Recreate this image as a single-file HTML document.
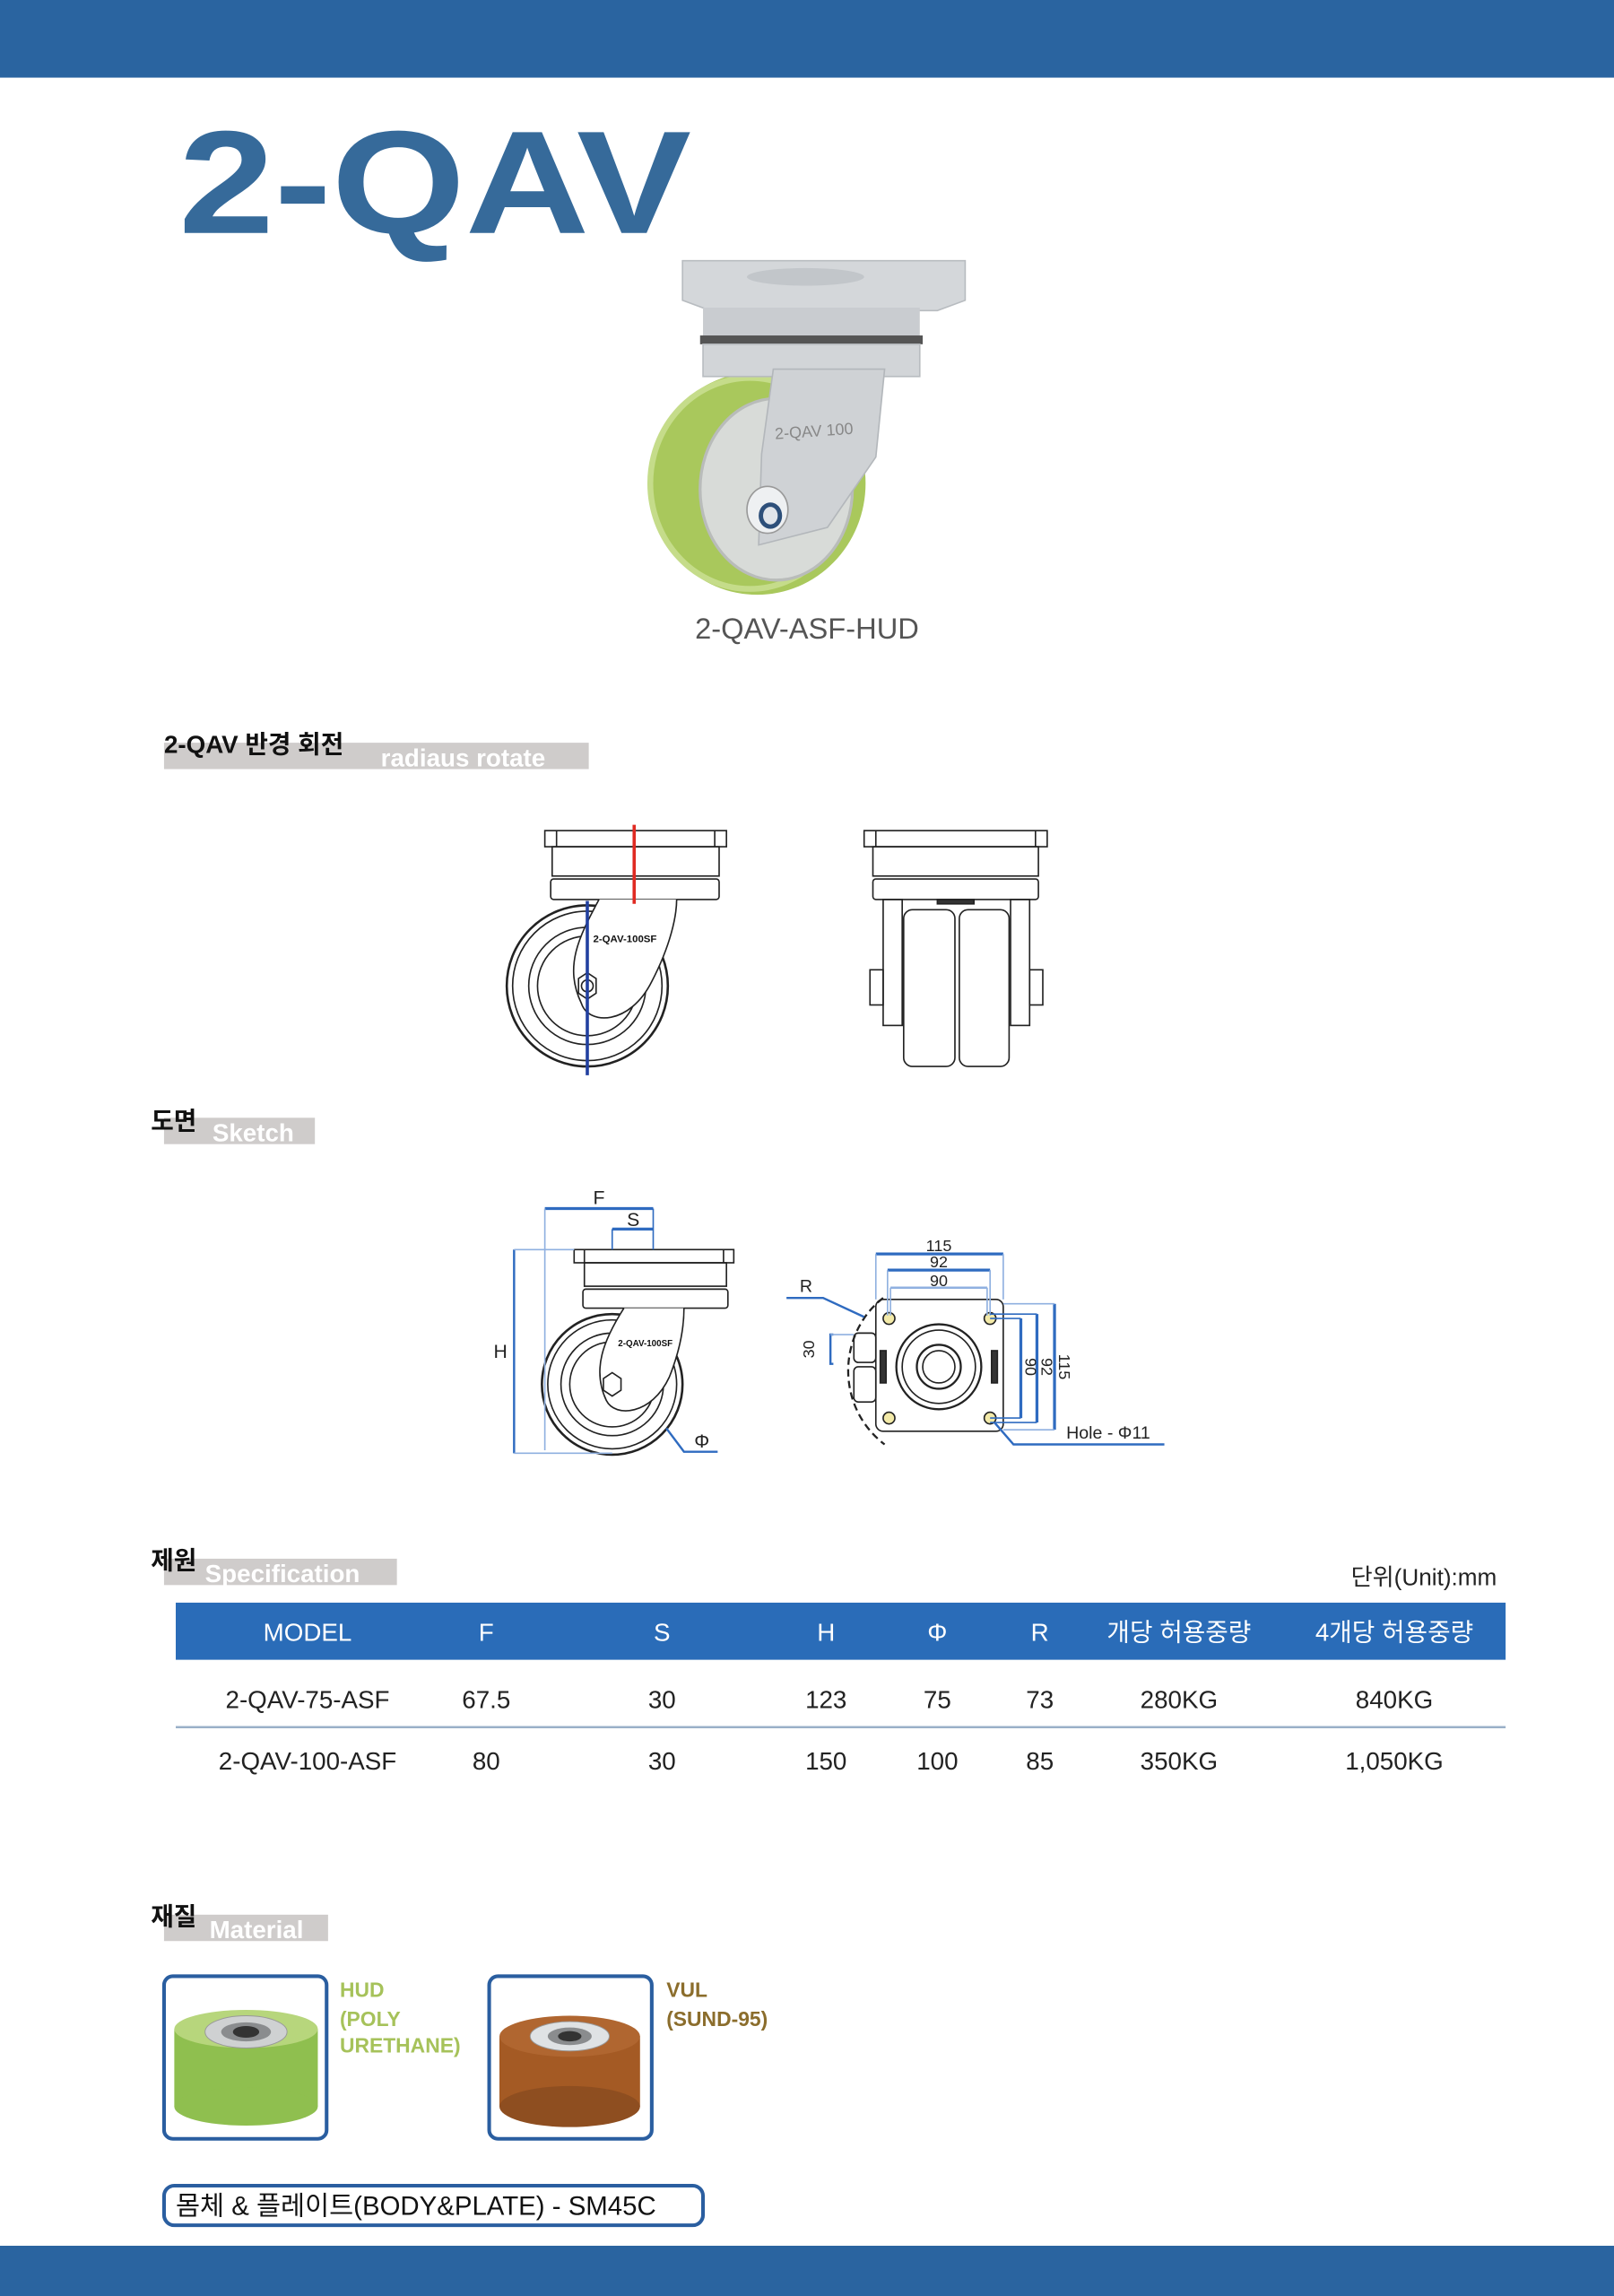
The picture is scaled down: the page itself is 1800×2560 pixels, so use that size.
<!DOCTYPE html>
<html><head><meta charset="utf-8">
<style>
html,body{margin:0;padding:0;background:#fff;}
svg{display:block;}
text{font-family:"Liberation Sans","Noto Sans CJK KR",sans-serif;}
</style></head>
<body>
<svg width="1800" height="2560" viewBox="0 0 1102 1567.3" xmlns="http://www.w3.org/2000/svg">
<rect x="0" y="0" width="1102" height="1567.3" fill="#fff"/>
<rect x="0" y="0" width="1102" height="53" fill="#2a64a0"/>
<rect x="0" y="1533" width="1102" height="35" fill="#2a64a0"/>

<!-- Title -->
<text x="122" y="159" font-size="100" font-weight="bold" fill="#366a9a" textLength="350" lengthAdjust="spacingAndGlyphs">2-QAV</text>

<!-- Product photo -->
<g>
  <ellipse cx="517" cy="330" rx="74" ry="76" fill="#a9c85c"/>
  <ellipse cx="512" cy="330" rx="68" ry="72" fill="none" stroke="#c5dc8a" stroke-width="4"/>
  <ellipse cx="530" cy="334" rx="52" ry="62" fill="#d8dbd8" stroke="#b9bcba" stroke-width="2"/>
  <polygon points="466,178 659,178 659,205 640,212 485,212 466,205" fill="#d4d7da" stroke="#b8bcc0"/>
  <ellipse cx="550" cy="189" rx="40" ry="6" fill="#c2c6ca"/>
  <rect x="480" y="210" width="148" height="20" fill="#c9ccd0"/>
  <rect x="478" y="229" width="152" height="6" fill="#555"/>
  <rect x="480" y="235" width="148" height="22" fill="#d2d5d8" stroke="#b8bcc0"/>
  <polygon points="528,252 604,252 598,312 565,360 518,372 520,310" fill="#cfd2d5" stroke="#b3b7bb"/>
  <text x="556" y="298" font-size="11" fill="#888" text-anchor="middle" transform="rotate(-4 556 298)">2-QAV 100</text>
  <ellipse cx="524" cy="348" rx="14" ry="16" fill="#eef0f2" stroke="#999"/>
  <ellipse cx="526" cy="352" rx="8" ry="9" fill="#2d4f7a"/>
  <ellipse cx="526" cy="352" rx="5" ry="6" fill="#e0e4ea"/>
</g>
<text x="551" y="436" font-size="20" fill="#555" text-anchor="middle">2-QAV-ASF-HUD</text>

<!-- Section headers -->
<g font-weight="bold" font-size="17">
  <rect x="112" y="507" width="290" height="18" fill="#cfcccb"/>
  <text x="112" y="514" fill="#111">2-QAV 반경 회전</text>
  <text x="260" y="523" fill="#fff">radiaus rotate</text>

  <rect x="112" y="763" width="103" height="18" fill="#cfcccb"/>
  <text x="103" y="771" fill="#111">도면</text>
  <text x="145" y="779" fill="#fff">Sketch</text>

  <rect x="112" y="1064" width="159" height="18" fill="#cfcccb"/>
  <text x="103" y="1071" fill="#111">제원</text>
  <text x="140" y="1080" fill="#fff">Specification</text>

  <rect x="112" y="1307" width="112" height="18" fill="#cfcccb"/>
  <text x="103" y="1314" fill="#111">재질</text>
  <text x="143" y="1323" fill="#fff">Material</text>
</g>

<!-- Row 1 drawings -->
<g fill="none" stroke="#222" stroke-width="1">
  <rect x="372" y="567" width="124" height="11"/>
  <line x1="380" y1="567" x2="380" y2="578"/><line x1="488" y1="567" x2="488" y2="578"/>
  <rect x="377" y="578" width="114" height="20"/>
  <rect x="376" y="600" width="115" height="14" rx="2"/>
  <circle cx="401" cy="673" r="55" stroke-width="1.6"/>
  <circle cx="401" cy="673" r="51"/>
  <circle cx="401" cy="673" r="40"/>
  <circle cx="401" cy="673" r="34"/>
  <path d="M409,614 C395,640 385,660 397,685 C402,700 430,700 445,670 C458,645 462,625 462,614" fill="#fff"/>
  <polygon points="395,668 401,664 407,668 407,678 401,682 395,678" />
  <circle cx="401" cy="673" r="4"/>
  <text x="405" y="643" font-size="7" font-weight="bold" fill="#111" stroke="none">2-QAV-100SF</text>
  <line x1="433" y1="563" x2="433" y2="617" stroke="#e02a22" stroke-width="2.2"/>
  <line x1="401" y1="615" x2="401" y2="734" stroke="#2240a0" stroke-width="2.2"/>
  <rect x="590" y="567" width="125" height="11"/>
  <line x1="598" y1="567" x2="598" y2="578"/><line x1="707" y1="567" x2="707" y2="578"/>
  <rect x="596" y="578" width="113" height="20"/>
  <rect x="596" y="600" width="113" height="14" rx="2"/>
  <rect x="603" y="614" width="13" height="86"/>
  <rect x="690" y="614" width="13" height="86"/>
  <rect x="594" y="662" width="9" height="24"/><rect x="703" y="662" width="9" height="24"/>
  <rect x="617" y="621" width="35" height="107" rx="6"/>
  <rect x="655" y="621" width="34" height="107" rx="6"/>
  <rect x="640" y="614" width="25" height="3" fill="#333"/>
</g>

<!-- Row 2 sketch -->
<g fill="none" stroke="#222" stroke-width="1">
  <rect x="392" y="853" width="109" height="9"/>
  <line x1="399" y1="853" x2="399" y2="862"/><line x1="494" y1="853" x2="494" y2="862"/>
  <rect x="399" y="862" width="97" height="16"/>
  <rect x="398" y="880" width="99" height="13" rx="2"/>
  <circle cx="418" cy="945" r="48" stroke-width="1.6"/>
  <circle cx="418" cy="945" r="44"/>
  <circle cx="418" cy="945" r="35"/>
  <circle cx="418" cy="945" r="29"/>
  <path d="M426,893 C412,915 404,935 414,956 C420,968 445,966 457,940 C465,920 467,905 467,893" fill="#fff"/>
  <polygon points="412,941 418,937 424,941 424,949 418,953 412,949"/>
  <text x="422" y="919" font-size="6" font-weight="bold" fill="#111" stroke="none">2-QAV-100SF</text>
</g>
<g fill="none" stroke="#2f6bc0" stroke-width="1">
  <line x1="372" y1="825" x2="446" y2="825" stroke-width="2"/>
  <line x1="372" y1="825" x2="372" y2="990" stroke="#8fb0e0"/>
  <line x1="446" y1="825" x2="446" y2="853"/>
  <line x1="418" y1="839" x2="446" y2="839" stroke-width="2"/>
  <line x1="418" y1="839" x2="418" y2="853"/>
  <line x1="351" y1="853" x2="351" y2="992" stroke-width="1.5"/>
  <line x1="351" y1="853" x2="392" y2="853" stroke="#8fb0e0"/>
  <line x1="351" y1="992" x2="418" y2="992" stroke="#8fb0e0"/>
  <polyline points="455,975 467,991 490,991" stroke-width="1.5"/>
</g>
<g font-size="13" fill="#222">
  <text x="405" y="822">F</text>
  <text x="428" y="837">S</text>
  <text x="337" y="927">H</text>
  <text x="474" y="988">Φ</text>
</g>
<g fill="none" stroke="#222" stroke-width="1">
  <rect x="598" y="887" width="87" height="90" rx="5"/>
  <circle cx="641" cy="933" r="29" stroke-width="1.4"/>
  <circle cx="641" cy="933" r="25"/>
  <circle cx="641" cy="933" r="15" stroke-width="1.4"/>
  <circle cx="641" cy="933" r="11"/>
  <rect x="583" y="910" width="15" height="20" rx="3"/>
  <rect x="583" y="933" width="15" height="24" rx="3"/>
  <rect x="601" y="922" width="4" height="22" fill="#333"/>
  <rect x="677" y="922" width="4" height="22" fill="#333"/>
  <path d="M603,886 C572,910 570,960 604,986" stroke-dasharray="5,3" stroke-width="1.4"/>
  <circle cx="607" cy="900" r="4" fill="#f3eaa8"/><circle cx="676" cy="900" r="4" fill="#f3eaa8"/>
  <circle cx="607" cy="968" r="4" fill="#f3eaa8"/><circle cx="676" cy="968" r="4" fill="#f3eaa8"/>
</g>
<g fill="none" stroke="#2f6bc0" stroke-width="1">
  <line x1="598" y1="856" x2="685" y2="856" stroke-width="2"/>
  <line x1="598" y1="856" x2="598" y2="887" stroke="#8fb0e0"/><line x1="685" y1="856" x2="685" y2="887" stroke="#8fb0e0"/>
  <line x1="606" y1="867" x2="676" y2="867" stroke-width="2"/>
  <line x1="606" y1="867" x2="606" y2="898" stroke="#8fb0e0"/><line x1="676" y1="867" x2="676" y2="898" stroke="#8fb0e0"/>
  <line x1="608" y1="879" x2="674" y2="879" stroke="#8fb0e0" stroke-width="1.5"/>
  <line x1="608" y1="879" x2="608" y2="898" stroke="#8fb0e0"/><line x1="674" y1="879" x2="674" y2="898" stroke="#8fb0e0"/>
  <line x1="720" y1="890" x2="720" y2="976" stroke-width="2"/>
  <line x1="685" y1="890" x2="720" y2="890" stroke="#8fb0e0"/><line x1="685" y1="976" x2="720" y2="976" stroke="#8fb0e0"/>
  <line x1="708" y1="897" x2="708" y2="971" stroke-width="2"/>
  <line x1="676" y1="897" x2="708" y2="897"/><line x1="676" y1="971" x2="708" y2="971"/>
  <line x1="697" y1="900" x2="697" y2="968" stroke-width="2"/>
  <line x1="676" y1="900" x2="697" y2="900"/><line x1="676" y1="968" x2="697" y2="968"/>
  <polyline points="537,886 562,886 590,899" stroke-width="1.5"/>
  <polyline points="569,911 567,911 567,931 569,931" stroke-width="1.5"/>
  <polyline points="567,911 583,911 M567,931 583,931" stroke="#8fb0e0"/>
  <polyline points="679,971 692,986 795,986" stroke-width="1.5"/>
</g>
<g font-size="11" fill="#222">
  <text x="641" y="854" text-anchor="middle">115</text>
  <text x="641" y="865" text-anchor="middle">92</text>
  <text x="641" y="878" text-anchor="middle">90</text>
  <text x="546" y="882" font-size="12">R</text>
  <text x="0" y="0" transform="translate(556 921) rotate(-90)" text-anchor="middle">30</text>
  <text x="0" y="0" transform="translate(723 933) rotate(90)" text-anchor="middle">115</text>
  <text x="0" y="0" transform="translate(711 933) rotate(90)" text-anchor="middle">92</text>
  <text x="0" y="0" transform="translate(700 933) rotate(90)" text-anchor="middle">90</text>
  <text x="728" y="982" font-size="12">Hole - Φ11</text>
</g>

<!-- Table -->
<text x="1022" y="1082" font-size="16" fill="#222" text-anchor="end">단위(Unit):mm</text>
<rect x="120" y="1094" width="908" height="39" fill="#2a6cb8"/>
<g font-size="17" fill="#fff" text-anchor="middle">
  <text x="210" y="1120">MODEL</text>
  <text x="332" y="1120">F</text>
  <text x="452" y="1120">S</text>
  <text x="564" y="1120">H</text>
  <text x="640" y="1120">Φ</text>
  <text x="710" y="1120">R</text>
  <text x="805" y="1120">개당 허용중량</text>
  <text x="952" y="1120">4개당 허용중량</text>
</g>
<g font-size="17" fill="#222" text-anchor="middle">
  <text x="210" y="1166">2-QAV-75-ASF</text>
  <text x="332" y="1166">67.5</text>
  <text x="452" y="1166">30</text>
  <text x="564" y="1166">123</text>
  <text x="640" y="1166">75</text>
  <text x="710" y="1166">73</text>
  <text x="805" y="1166">280KG</text>
  <text x="952" y="1166">840KG</text>
  <text x="210" y="1208">2-QAV-100-ASF</text>
  <text x="332" y="1208">80</text>
  <text x="452" y="1208">30</text>
  <text x="564" y="1208">150</text>
  <text x="640" y="1208">100</text>
  <text x="710" y="1208">85</text>
  <text x="805" y="1208">350KG</text>
  <text x="952" y="1208">1,050KG</text>
</g>
<line x1="120" y1="1179" x2="1028" y2="1179" stroke="#9ab0c8" stroke-width="1.5"/>

<!-- Material -->
<rect x="112" y="1349" width="111" height="111" rx="6" fill="#fff" stroke="#2a5ea0" stroke-width="2.5"/>
<g>
  <rect x="119" y="1385" width="98" height="53" fill="#8fbf4f"/>
  <ellipse cx="168" cy="1438" rx="49" ry="13" fill="#8fbf4f"/>
  <ellipse cx="168" cy="1385" rx="49" ry="13" fill="#b7d67c"/>
  <ellipse cx="168" cy="1387" rx="28" ry="11" fill="#cfd1d2" stroke="#999" stroke-width="0.6"/>
  <ellipse cx="168" cy="1387" rx="17" ry="6.5" fill="#8a8c8e"/>
  <ellipse cx="168" cy="1387" rx="9" ry="4" fill="#333"/>
</g>
<rect x="334" y="1349" width="111" height="111" rx="6" fill="#fff" stroke="#2a5ea0" stroke-width="2.5"/>
<g>
  <rect x="341" y="1390" width="96" height="48" fill="#a45a24"/>
  <ellipse cx="389" cy="1438" rx="48" ry="14" fill="#8e4e20"/>
  <ellipse cx="389" cy="1390" rx="48" ry="14" fill="#b06630"/>
  <ellipse cx="389" cy="1390" rx="27" ry="10" fill="#dfe2e4" stroke="#999" stroke-width="0.6"/>
  <ellipse cx="389" cy="1390" rx="15" ry="6" fill="#8a8c8e"/>
  <ellipse cx="389" cy="1390" rx="8" ry="3.5" fill="#333"/>
</g>
<g font-size="14" font-weight="bold">
  <text x="232" y="1363" fill="#a6c25a">HUD</text>
  <text x="232" y="1383" fill="#a6c25a">(POLY</text>
  <text x="232" y="1401" fill="#a6c25a">URETHANE)</text>
  <text x="455" y="1363" fill="#8b6d2c">VUL</text>
  <text x="455" y="1383" fill="#8b6d2c">(SUND-95)</text>
</g>
<rect x="112" y="1492" width="368" height="27" rx="7" fill="#fff" stroke="#2a5ea0" stroke-width="2.5"/>
<text x="120" y="1512" font-size="18" fill="#111">몸체 &amp; 플레이트(BODY&amp;PLATE) - SM45C</text>
</svg>
</body></html>
